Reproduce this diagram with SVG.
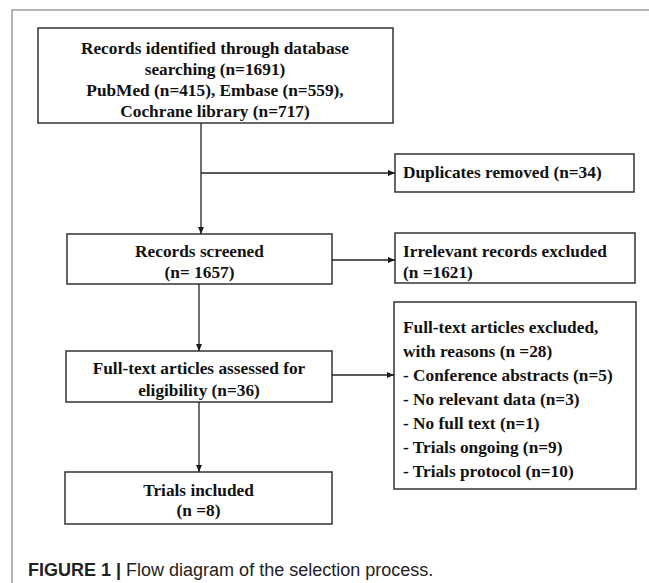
<svg xmlns="http://www.w3.org/2000/svg" width="649" height="583" viewBox="0 0 649 583">
<defs>
<marker id="ah" markerWidth="7" markerHeight="6" refX="7" refY="3" orient="auto" markerUnits="userSpaceOnUse">
<path d="M0,0 L7,3 L0,6 Z" fill="#1a1a1a"/>
</marker>
<style>
.frame{fill:none;stroke:#9a9a9a;stroke-width:1.5}
.box{fill:#fff;stroke:#333;stroke-width:1.5}
.t{font-family:"Liberation Serif","Times New Roman",serif;font-weight:bold;font-size:17.3px;fill:#111}
.c{text-anchor:middle}
.conn{fill:none;stroke:#222;stroke-width:1.3}
.cap{font-family:"Liberation Sans",Arial,sans-serif;font-size:18px;fill:#222}
</style>
</defs>
<rect width="649" height="583" fill="#fff"/>
<path class="frame" d="M12,583 V10 H649"/>

<g id="identified">
<rect class="box" x="38" y="28" width="355" height="95"/>
<text class="t c" x="215" y="54">Records identified through database</text>
<text class="t c" x="215" y="75">searching (n=1691)</text>
<text class="t c" x="215" y="96">PubMed (n=415), Embase (n=559),</text>
<text class="t c" x="215" y="117">Cochrane library (n=717)</text>
</g>

<g id="duplicates">
<rect class="box" x="395" y="154" width="239" height="38"/>
<text class="t" x="403" y="178">Duplicates removed (n=34)</text>
</g>

<g id="screened">
<rect class="box" x="67" y="234" width="265" height="50"/>
<text class="t c" x="199.5" y="257">Records screened</text>
<text class="t c" x="199.5" y="278">(n= 1657)</text>
</g>

<g id="irrelevant">
<rect class="box" x="395" y="233" width="240" height="50"/>
<text class="t" x="403" y="257">Irrelevant records excluded</text>
<text class="t" x="403" y="278">(n =1621)</text>
</g>

<g id="eligibility">
<rect class="box" x="66" y="351" width="266" height="51"/>
<text class="t c" x="199" y="374">Full-text articles assessed for</text>
<text class="t c" x="199" y="396">eligibility (n=36)</text>
</g>

<g id="excluded">
<rect class="box" x="394" y="302" width="242" height="187"/>
<text class="t" x="403" y="333">Full-text articles excluded,</text>
<text class="t" x="403" y="357">with reasons (n =28)</text>
<text class="t" x="403" y="381">- Conference abstracts (n=5)</text>
<text class="t" x="403" y="405">- No relevant data (n=3)</text>
<text class="t" x="403" y="429">- No full text (n=1)</text>
<text class="t" x="403" y="453">- Trials ongoing (n=9)</text>
<text class="t" x="403" y="477">- Trials protocol (n=10)</text>
</g>

<g id="included">
<rect class="box" x="65" y="472" width="267" height="52"/>
<text class="t c" x="198.5" y="496">Trials included</text>
<text class="t c" x="198.5" y="516">(n =8)</text>
</g>

<g id="connectors">
<path class="conn" d="M201,123 V234" marker-end="url(#ah)"/>
<path class="conn" d="M201,173 H395" marker-end="url(#ah)"/>
<path class="conn" d="M332,260 H395" marker-end="url(#ah)"/>
<path class="conn" d="M199,284 V351" marker-end="url(#ah)"/>
<path class="conn" d="M332,375 H394" marker-end="url(#ah)"/>
<path class="conn" d="M199,402 V472" marker-end="url(#ah)"/>
</g>

<text class="cap" x="28" y="576"><tspan font-weight="bold">FIGURE 1</tspan> <tspan font-weight="bold">|</tspan> Flow diagram of the selection process.</text>
</svg>
